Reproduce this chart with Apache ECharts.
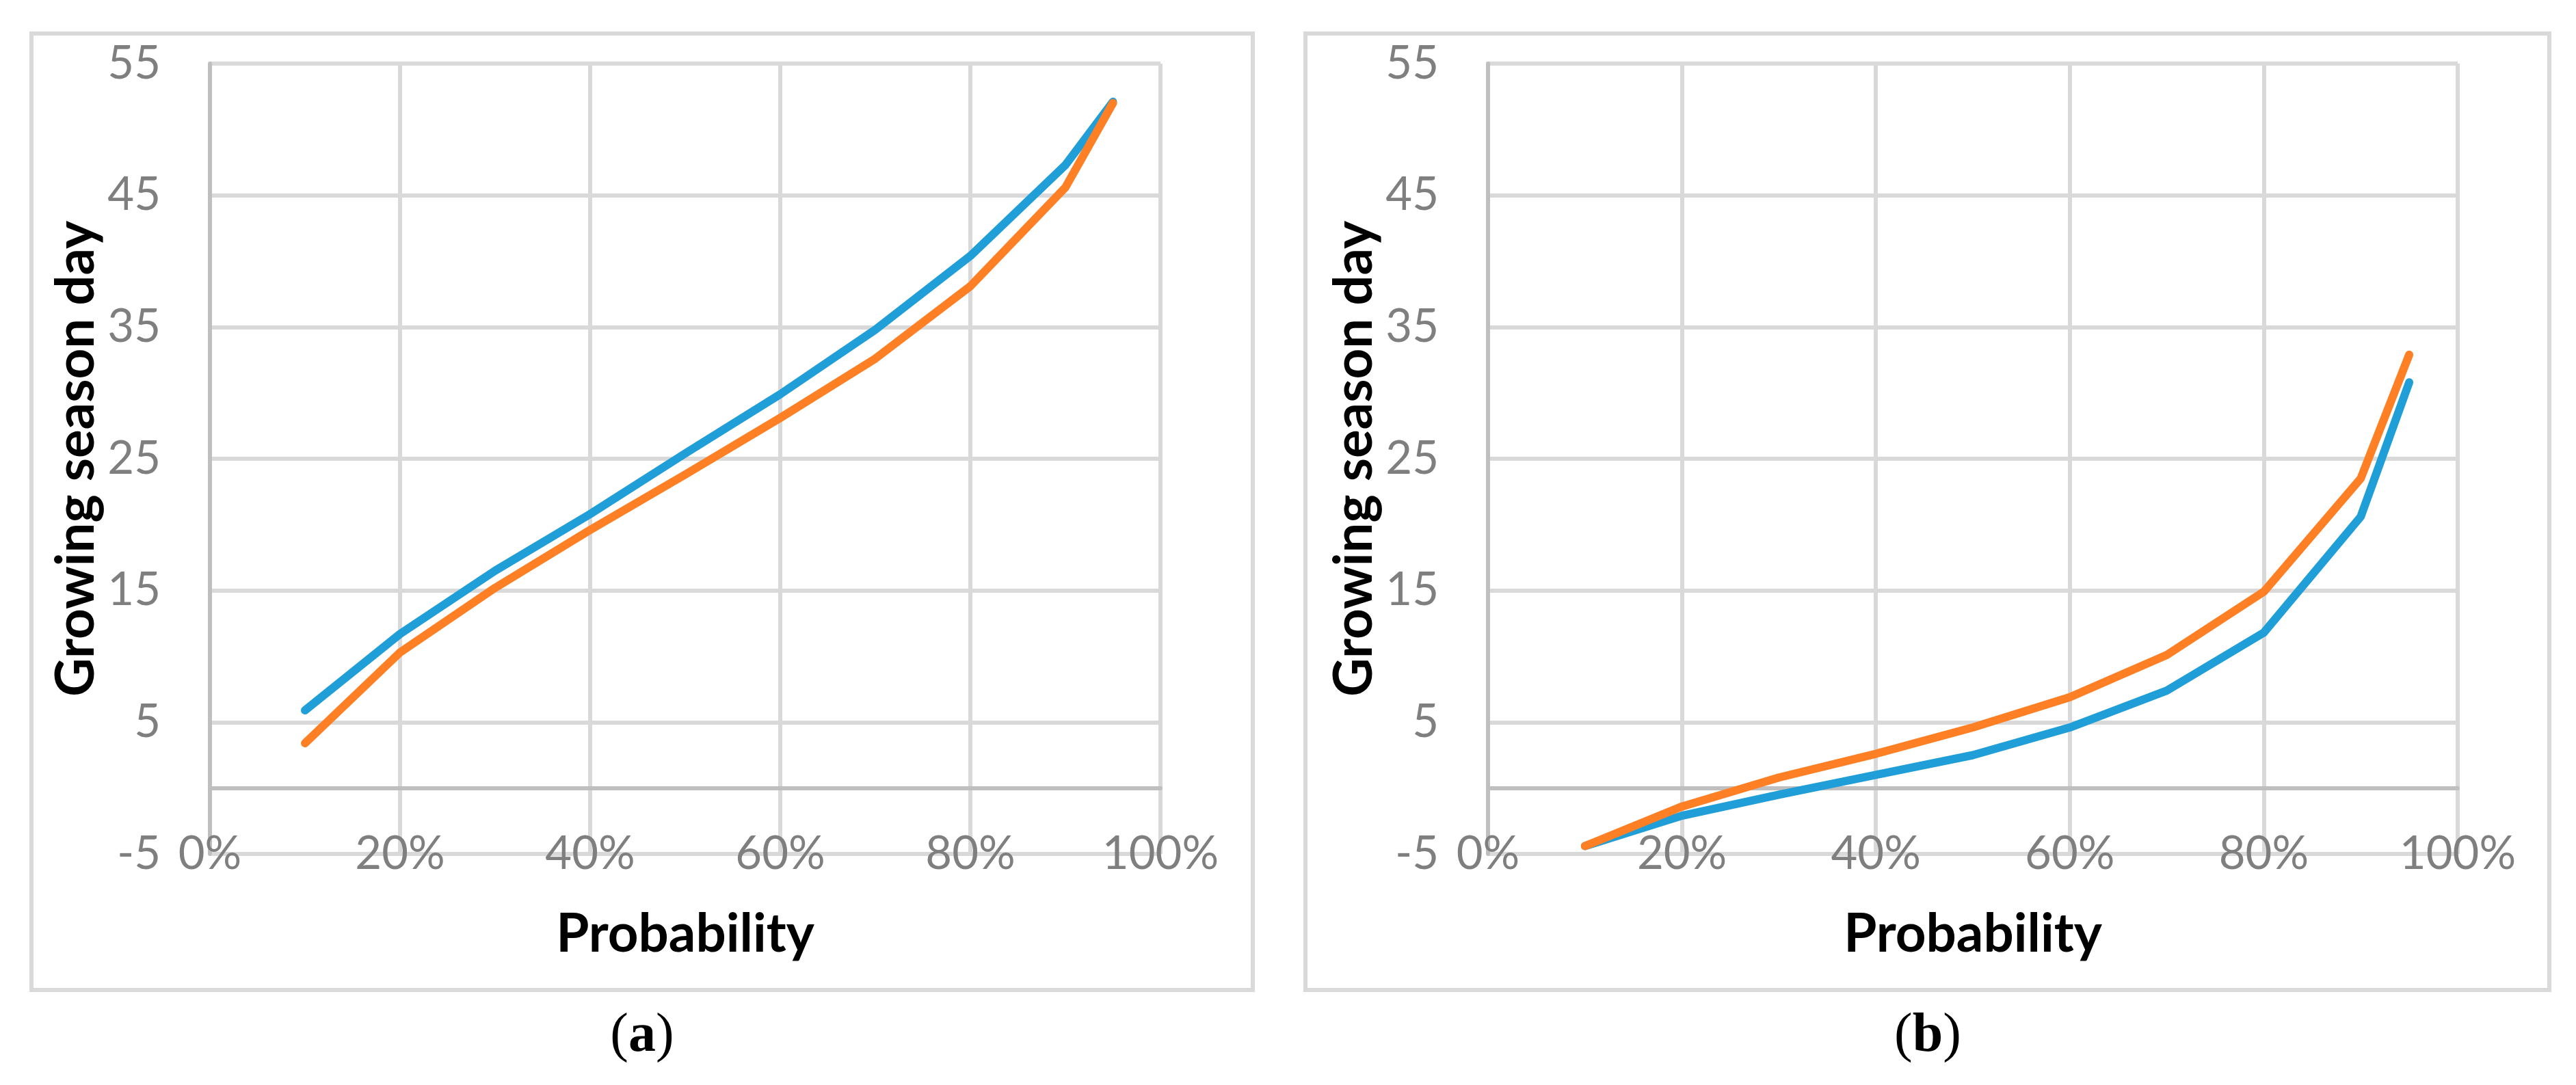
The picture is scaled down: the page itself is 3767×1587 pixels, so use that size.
<!DOCTYPE html>
<html>
<head>
<meta charset="utf-8">
<script src="https://cdn.jsdelivr.net/npm/echarts/dist/echarts.min.js"></script>
<style>
html,body{margin:0;padding:0;background:#ffffff;}
#chart{width:3767px;height:1587px;}
</style>
</head>
<body>
<div id="chart"></div>
<script>
// ---- data ----
const probability = [0.10, 0.20, 0.30, 0.40, 0.50, 0.60, 0.70, 0.80, 0.90, 0.95];
const blueA   = [5.9, 11.7, 16.5, 20.8, 25.4, 29.9, 34.8, 40.4, 47.3, 52.1];
const orangeA = [3.4, 10.3, 15.2, 19.6, 23.8, 28.1, 32.6, 38.1, 45.6, 52.0];
const blueB   = [-4.4, -2.1, -0.5, 1.0, 2.5, 4.6, 7.4, 11.8, 20.6, 30.8];
const orangeB = [-4.4, -1.4, 0.8, 2.6, 4.6, 6.9, 10.1, 14.9, 23.5, 32.9];
const yTicks = { min: -5, max: 55, step: 10 };
const xTicks = { min: 0, max: 1, step: 0.2 };
const xTitle = 'Probability';
const yTitle = 'Growing season day';
const panelLetters = ['a', 'b'];

const BLUE = '#1F9ED8';
const ORANGE = '#FE7F24';
const GRID_C = '#d9d9d9';
const AXIS_C = '#bfbfbf';
const LABEL_C = '#7f7f7f';
const SANS = 'Lato';

function pairs(xs, ys) { return xs.map((x, i) => [x, ys[i]]); }

function xAxisFor(i) {
  return {
    type: 'value', gridIndex: i,
    min: xTicks.min, max: xTicks.max, interval: xTicks.step,
    axisLine: { show: true, onZero: true, lineStyle: { color: AXIS_C, width: 6 } },
    axisTick: { show: false },
    axisLabel: {
      margin: 0, verticalAlign: 'middle',
      fontFamily: SANS, fontSize: 67, color: LABEL_C,
      formatter: v => Math.round(v * 100) + '%'
    },
    splitLine: { show: true, lineStyle: { color: GRID_C, width: 6 } },
    name: xTitle, nameLocation: 'middle', nameGap: 118,
    nameTextStyle: { fontFamily: SANS, fontWeight: 'bold', fontSize: 78, color: '#000', verticalAlign: 'middle' }
  };
}
function yAxisFor(i) {
  return {
    type: 'value', gridIndex: i,
    min: yTicks.min, max: yTicks.max, interval: yTicks.step,
    axisLine: { show: true, onZero: false, lineStyle: { color: AXIS_C, width: 6 } },
    axisTick: { show: false },
    axisLabel: { margin: 72, fontFamily: SANS, fontSize: 67, color: LABEL_C },
    splitLine: { show: true, lineStyle: { color: GRID_C, width: 6 } },
    name: yTitle, nameLocation: 'middle', nameGap: 195,
    nameTextStyle: { fontFamily: SANS, fontWeight: 'bold', fontSize: 78, color: '#000', verticalAlign: 'middle' }
  };
}
function lineSeries(i, ys, color) {
  return {
    type: 'line', xAxisIndex: i, yAxisIndex: i,
    data: pairs(probability, ys),
    showSymbol: false, symbol: 'none', silent: true,
    lineStyle: { color: color, width: 12, cap: 'round', join: 'round' },
    itemStyle: { color: color }
  };
}

function draw() {
  const chart = echarts.init(document.getElementById('chart'), null, { renderer: 'canvas' });
  chart.setOption({
    backgroundColor: '#ffffff',
    animation: false,
    grid: [
      { left: 307, top: 93, width: 1390, height: 1156 },
      { left: 2176, top: 93, width: 1418, height: 1156 }
    ],
    xAxis: [xAxisFor(0), xAxisFor(1)],
    yAxis: [yAxisFor(0), yAxisFor(1)],
    series: [
      lineSeries(0, blueA, BLUE), lineSeries(0, orangeA, ORANGE),
      lineSeries(1, blueB, BLUE), lineSeries(1, orangeB, ORANGE)
    ],
    graphic: [
      { type: 'rect', shape: { x: 46, y: 49, width: 1786, height: 1399 },
        style: { fill: 'none', stroke: GRID_C, lineWidth: 6 }, silent: true },
      { type: 'rect', shape: { x: 1909, y: 49, width: 1819, height: 1399 },
        style: { fill: 'none', stroke: GRID_C, lineWidth: 6 }, silent: true },
      { type: 'text', x: 939, y: 1516, silent: true,
        style: { text: '{p|(}{b|' + panelLetters[0] + '}{p|)}', align: 'center', verticalAlign: 'middle',
          rich: { p: { fontFamily: 'Liberation Serif', fontSize: 80, fill: '#000', fontWeight: 'normal' },
                  b: { fontFamily: 'Liberation Serif', fontSize: 80, fill: '#000', fontWeight: 'bold' } } } },
      { type: 'text', x: 2819, y: 1516, silent: true,
        style: { text: '{p|(}{b|' + panelLetters[1] + '}{p|)}', align: 'center', verticalAlign: 'middle',
          rich: { p: { fontFamily: 'Liberation Serif', fontSize: 80, fill: '#000', fontWeight: 'normal' },
                  b: { fontFamily: 'Liberation Serif', fontSize: 80, fill: '#000', fontWeight: 'bold' } } } }
    ]
  });
}

if (document.fonts && document.fonts.load) {
  Promise.all([
    document.fonts.load('67px Lato'),
    document.fonts.load('bold 78px Lato'),
    document.fonts.load('80px "Liberation Serif"'),
    document.fonts.load('bold 80px "Liberation Serif"')
  ]).then(draw, draw);
} else { draw(); }
</script>
</body>
</html>
